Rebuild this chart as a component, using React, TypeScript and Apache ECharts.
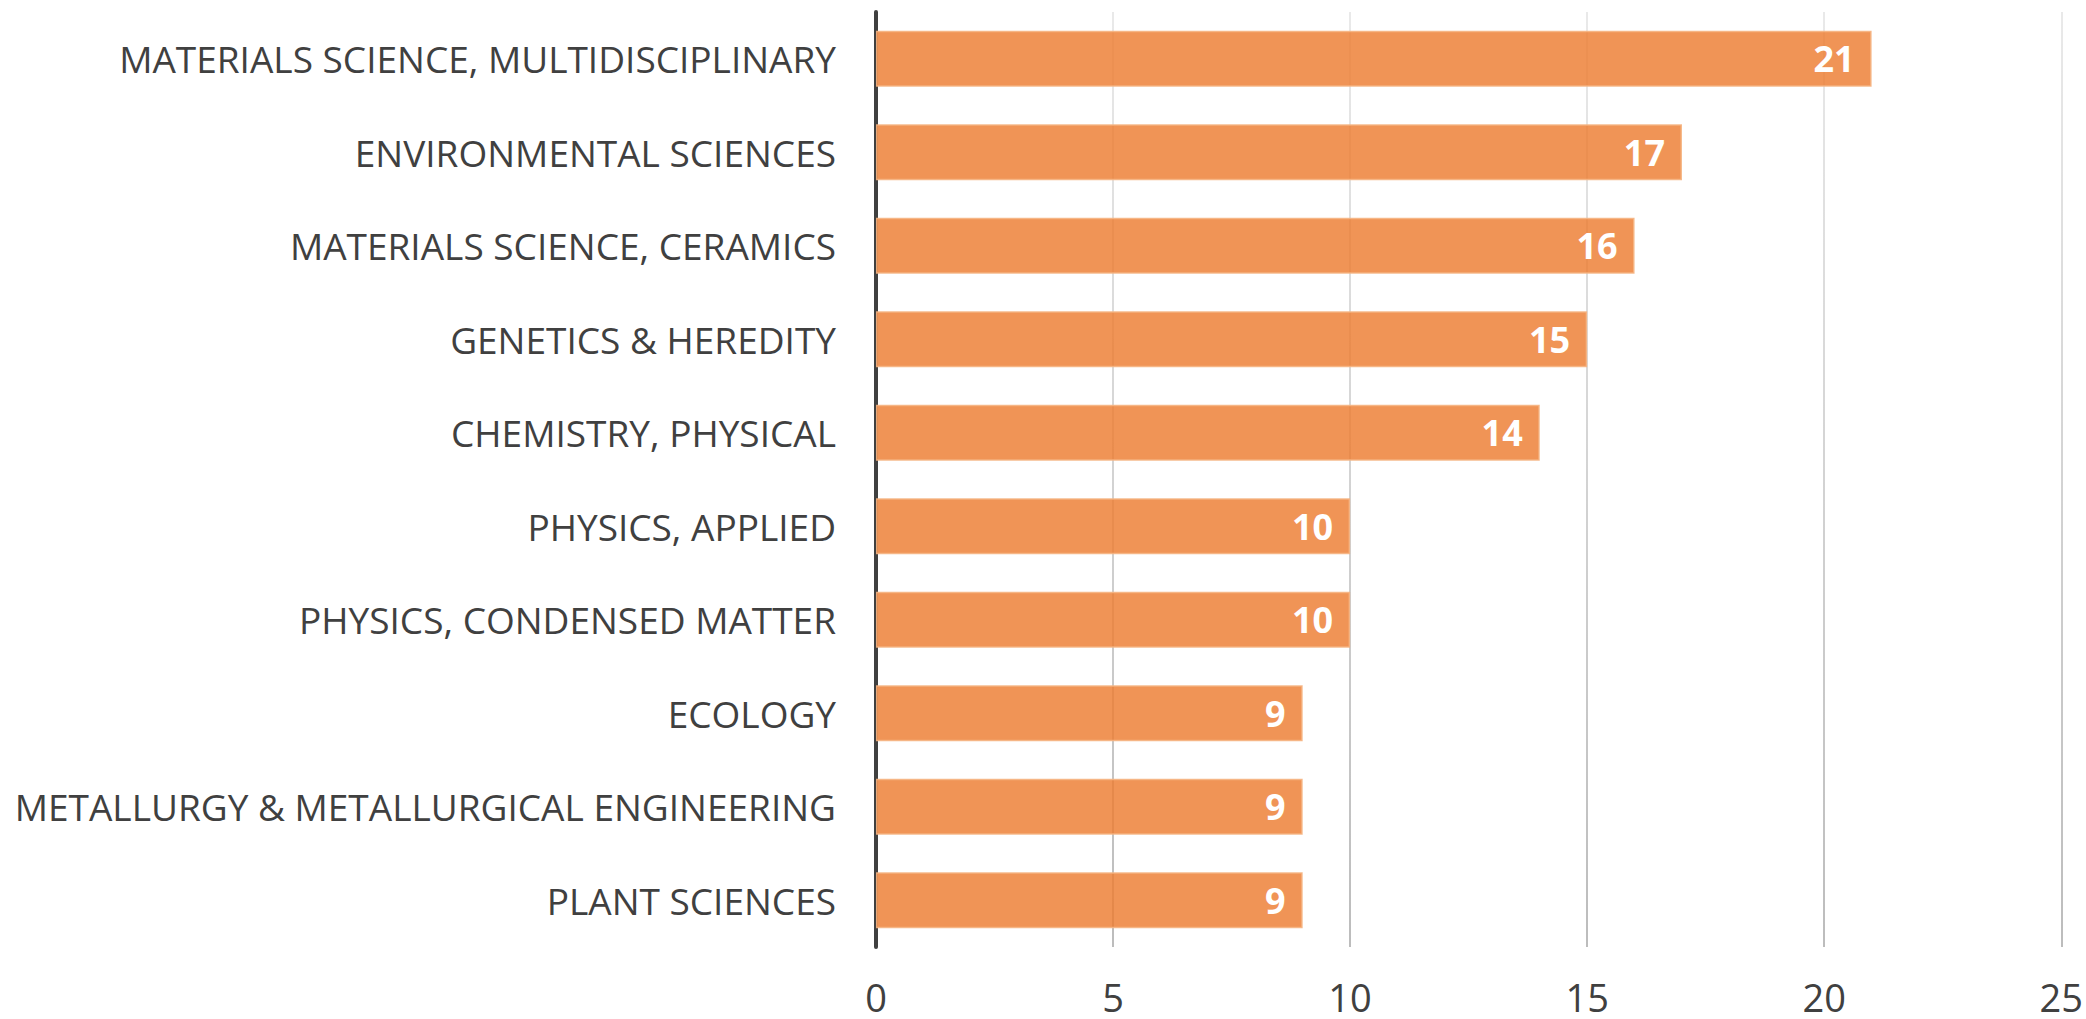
import React, { useEffect, useRef } from "react";
import * as echarts from "echarts";

const categories = [
  "MATERIALS SCIENCE, MULTIDISCIPLINARY",
  "ENVIRONMENTAL SCIENCES",
  "MATERIALS SCIENCE, CERAMICS",
  "GENETICS & HEREDITY",
  "CHEMISTRY, PHYSICAL",
  "PHYSICS, APPLIED",
  "PHYSICS, CONDENSED MATTER",
  "ECOLOGY",
  "METALLURGY & METALLURGICAL ENGINEERING",
  "PLANT SCIENCES",
];
const values = [21, 17, 16, 15, 14, 10, 10, 9, 9, 9];
const axisMin = 0;
const axisMax = 25;
const axisInterval = 5;

const FONT = "'Open Sans', 'Noto Sans', sans-serif";
const GRID_TOP = 12;
const GRID_BOTTOM = 72;

export default function App() {
  const ref = useRef<HTMLDivElement>(null);
  useEffect(() => {
    if (!ref.current) return;
    const chart = echarts.init(ref.current, null, { renderer: "svg" });
    const H = 1019;
    chart.setOption({
      animation: false,
      backgroundColor: "#ffffff",
      grid: { left: 876, right: 23, top: GRID_TOP, bottom: GRID_BOTTOM, containLabel: false },
      xAxis: {
        type: "value",
        min: axisMin,
        max: axisMax,
        interval: axisInterval,
        axisLine: { show: false },
        axisTick: { show: false },
        axisLabel: {
          color: "#404040",
          fontSize: 38,
          fontFamily: FONT,
          margin: 31,
          lineHeight: 38,
        },
        splitLine: {
          show: true,
          lineStyle: {
            width: 1.5,
            color: new echarts.graphic.LinearGradient(
              0, GRID_TOP, 0, H - GRID_BOTTOM,
              [
                { offset: 0, color: "#e2e2e2" },
                { offset: 1, color: "#a6a6a6" },
              ],
              true
            ),
          },
        },
      },
      yAxis: {
        type: "category",
        data: categories,
        inverse: true,
        axisLine: { show: true, onZero: false, lineStyle: { color: "#404040", width: 4 } },
        axisTick: { show: false },
        axisLabel: { color: "#404040", fontSize: 37, fontFamily: FONT, margin: 40 },
        splitLine: { show: false },
      },
      series: [
        {
          type: "bar",
          data: values,
          barWidth: 56,
          z: 3,
          itemStyle: {
            color: "rgba(237,125,49,0.82)",
            borderColor: "rgba(245,180,130,0.9)",
            borderWidth: 1.5,
          },
          label: {
            show: true,
            position: "insideRight",
            distance: 17,
            color: "#ffffff",
            fontWeight: "bold",
            fontSize: 36,
            fontFamily: FONT,
          },
        },
      ],
    });
    return () => chart.dispose();
  }, []);
  return (
    <div
      ref={ref}
      style={{ position: "fixed", left: 0, top: 0, width: 2086, height: 1019 }}
    />
  );
}
